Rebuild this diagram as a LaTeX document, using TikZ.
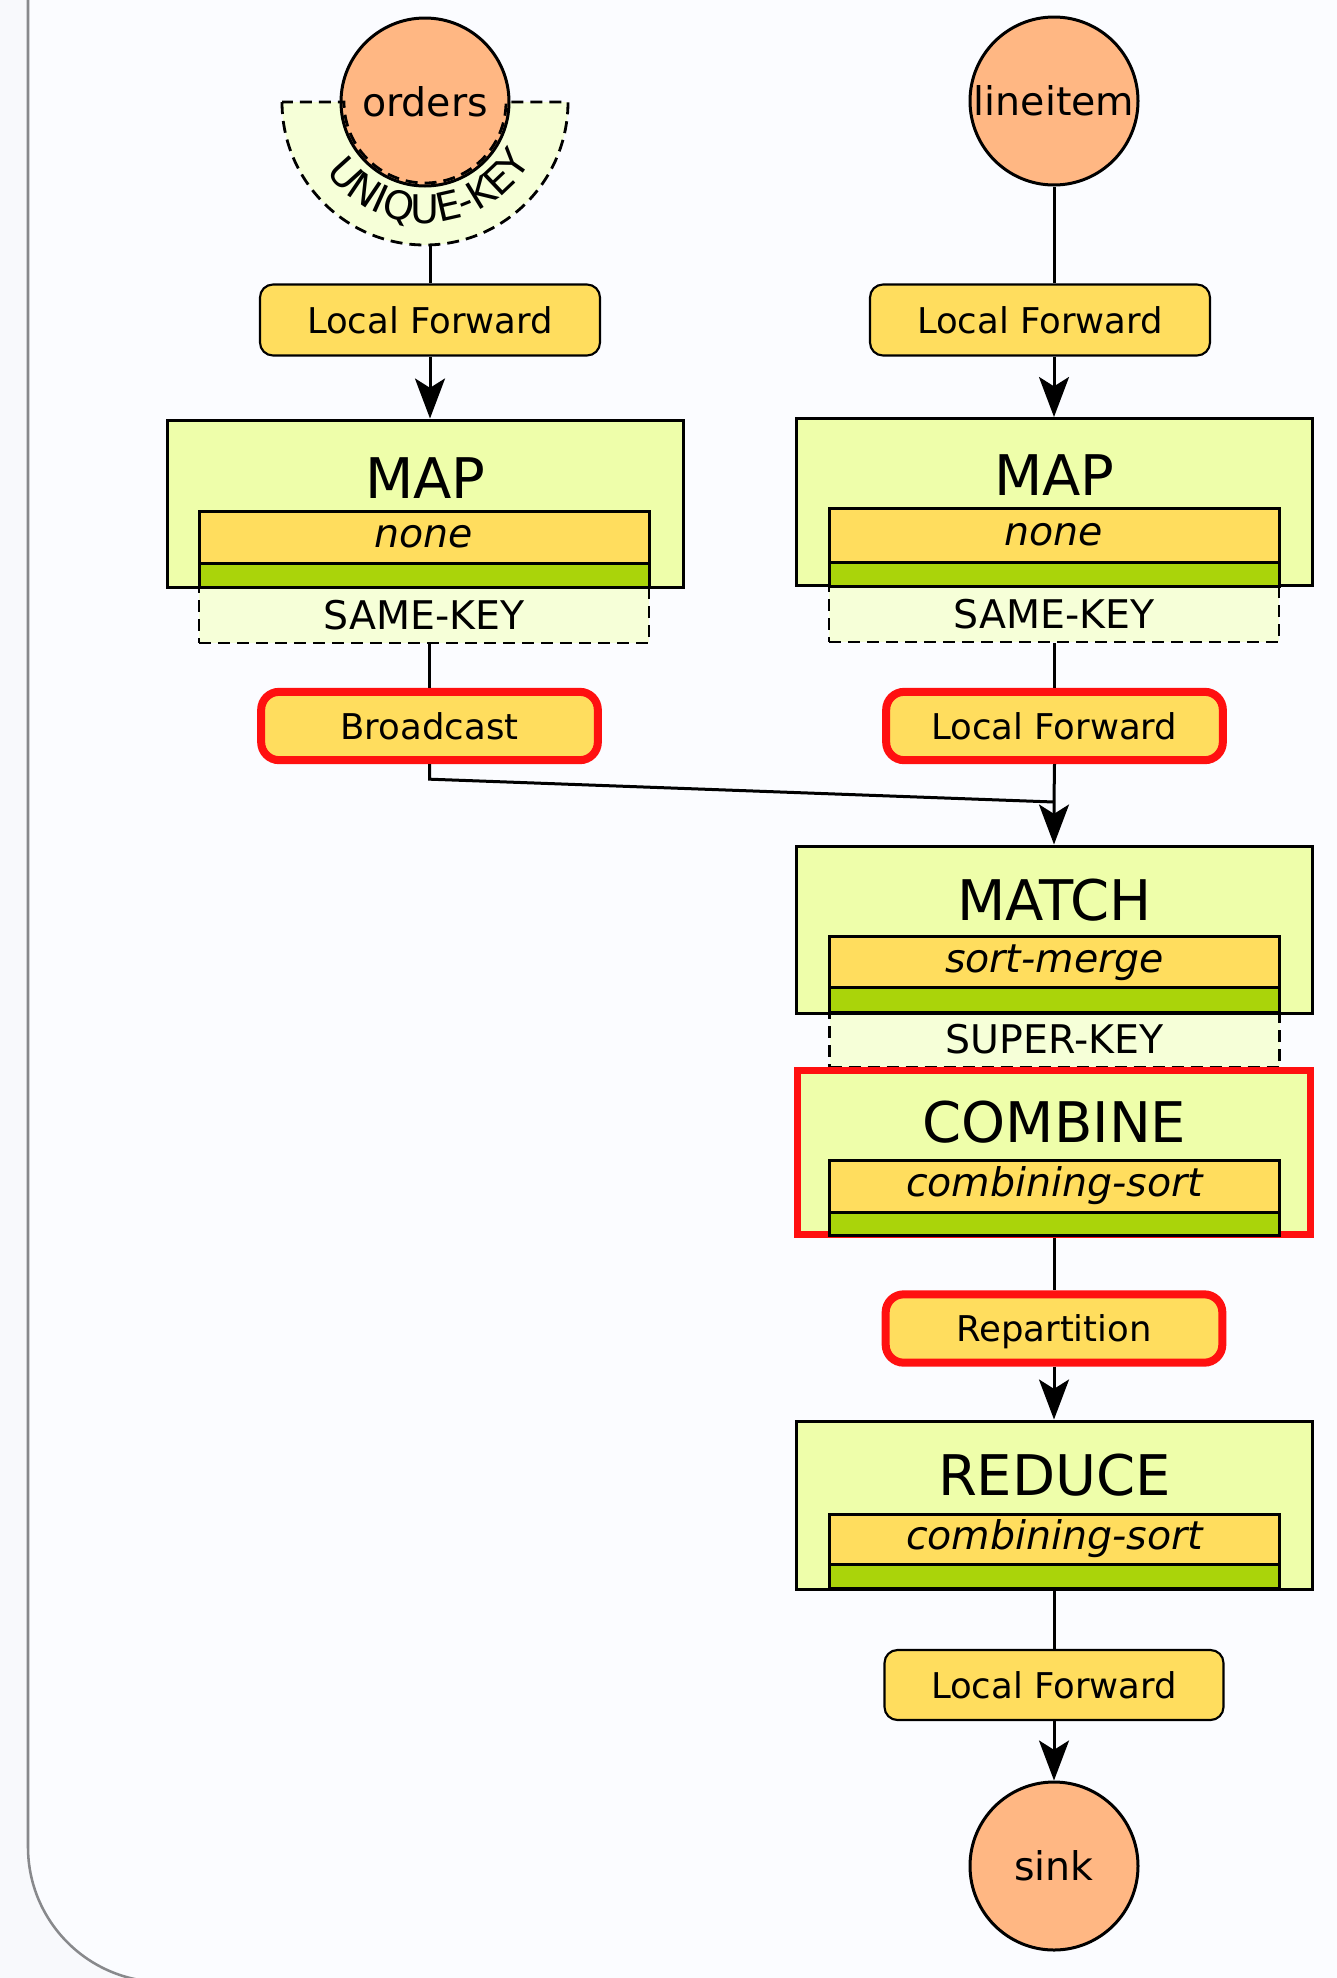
\documentclass[tikz,border=0pt]{standalone}
\usepackage{fontspec}
\setmainfont{DejaVu Sans}
\usepackage{tikz}
\usetikzlibrary{arrows.meta}
\usetikzlibrary{decorations.text}

\begin{document}
\begin{tikzpicture}[x=0.75pt,y=0.75pt,yscale=-1,xscale=1,
  src/.style={circle, draw, line width=2.25pt, fill={rgb, 255:red, 255; green, 183; blue, 131}, minimum size=126pt, inner sep=0pt, font=\fontsize{29.6}{34}\selectfont},
  ship/.style={rectangle, rounded corners=9.75pt, draw, line width=1.6pt, fill={rgb, 255:red, 255; green, 221; blue, 94}, minimum width=255pt, minimum height=53.25pt, inner sep=0pt, text depth=0pt, font=\fontsize{26.6}{30}\selectfont},
  shipred/.style={ship, draw={rgb, 255:red, 255; green, 16; blue, 16}, line width=6pt, rounded corners=13.5pt, minimum width=252.5pt, minimum height=51.25pt},
  op/.style={rectangle, draw, line width=2.25pt, fill={rgb, 255:red, 238; green, 254; blue, 170}, minimum width=387pt, minimum height=125.25pt, inner sep=0pt},
  opred/.style={op, draw={rgb, 255:red, 255; green, 16; blue, 16}, line width=5.6pt, minimum width=384.5pt, minimum height=122.75pt},
  optitle/.style={anchor=base, inner sep=0pt, font=\fontsize{42}{48}\selectfont},
  strat/.style={rectangle, draw, line width=2.25pt, fill={rgb, 255:red, 255; green, 221; blue, 94}, minimum width=337.5pt, inner sep=0pt, text height=16.2pt, text depth=0pt, font=\fontsize{29.6}{34}\selectfont\itshape},
  drv/.style={rectangle, draw, line width=2.25pt, fill={rgb, 255:red, 170; green, 212; blue, 10}, minimum width=337.5pt, minimum height=18pt, inner sep=0pt},
  keybox/.style={rectangle, draw, line width=2.1pt, dash pattern=on 9pt off 5.25pt, fill={rgb, 255:red, 246; green, 255; blue, 216}, minimum width=337.5pt, minimum height=42pt, inner sep=0pt, font=\fontsize{29.6}{34}\selectfont},
  keyline/.style={line width=2.1pt, dash pattern=on 9pt off 5.25pt},
  link/.style={line width=2.25pt},
  flow/.style={line width=2.25pt, -{Stealth[length=30pt,width=22.5pt,inset=7pt]}},
  frame/.style={draw={rgb, 255:red, 136; green, 137; blue, 140}, line width=1.9pt, fill={rgb, 255:red, 251; green, 252; blue, 255}}
]
\useasboundingbox (0,0) rectangle (1336,1978);
\fill [color={rgb, 255:red, 248; green, 249; blue, 252}] (0,0) rectangle (1336,1978);

%Shape: Frame
\path [frame] (28,-40) -- (28,1847) arc [start angle=180, end angle=90, radius=135] -- (1380,1982) -- (1380,-40) -- cycle ;

%Shape: Half Ring (unique key)
\fill [color={rgb, 255:red, 246; green, 255; blue, 216}] (282,102) arc [start angle=180, end angle=0, radius=143] -- (506,102) arc [start angle=0, end angle=180, radius=81] -- cycle ;
% Text Node
\node [src] (orders) at (425,102) {orders};
%Shape: Half Ring border
\draw [keyline] (282,102) arc [start angle=180, end angle=0, radius=143] -- (506,102) arc [start angle=0, end angle=180, radius=81] -- cycle ;
% Text along arc
\begin{scope}[shift={(425,102)}, yscale=-1]
\path [decorate, decoration={text along path, text align=center, text={|\fontsize{29.6}{34}\selectfont|UNIQUE-KEY}}] (203:121) arc [start angle=203, end angle=343, radius=121] ;
\end{scope}
\coordinate (ukey) at (430,245);

% Text Node
\node [src] (lineitem) at (1054,101) {lineitem};

%Left branch
\node [ship] (lf1) at (430,320) {Local Forward};
\node [keybox] (sk1) at (424,615) {SAME-KEY};
\node [op] (map1) at (425.5,503.5) {};
\node [optitle] (map1t) at (425.5,498) {MAP};
\node [strat, minimum height=39pt] (s1) at (424,537) {none};
\node [drv] (d1) at (424,575) {};
\node [shipred] (bc) at (429.5,726) {Broadcast};

%Right branch
\node [ship] (lf2) at (1040,320) {Local Forward};
\node [keybox] (sk2) at (1054,614) {SAME-KEY};
\node [op] (map2) at (1054.5,502) {};
\node [optitle] (map2t) at (1054.5,495) {MAP};
\node [strat, minimum height=40.5pt] (s2) at (1054,535) {none};
\node [drv] (d2) at (1054,574) {};
\node [shipred] (lfr) at (1054.5,726) {Local Forward};
\coordinate (join) at (1054,802);

\node [keybox, minimum height=41.25pt] (sk3) at (1054.5,1039.5) {SUPER-KEY};
\node [op] (match) at (1054.5,929.5) {};
\node [optitle] (matcht) at (1054.5,920) {MATCH};
\node [strat, minimum height=38.25pt] (s3) at (1054.5,961.5) {sort-merge};
\node [drv, minimum height=18.75pt] (d3) at (1054.5,999.5) {};

\node [opred] (combine) at (1054,1152.5) {};
\node [optitle] (combinet) at (1054.5,1142) {COMBINE};
\node [strat, minimum height=39pt] (s4) at (1054.5,1186) {combining-sort};
\node [drv, minimum height=17.25pt] (d4) at (1054.5,1223.5) {};

\node [shipred] (rep) at (1054,1328.5) {Repartition};

\node [op, minimum height=126pt] (reduce) at (1054.5,1505) {};
\node [optitle] (reducet) at (1054.5,1495) {REDUCE};
\node [strat, minimum height=37.5pt] (s5) at (1054.5,1539) {combining-sort};
\node [drv] (d5) at (1054.5,1576) {};

\node [ship, minimum width=254.25pt, minimum height=52.5pt] (lf3) at (1054,1685) {Local Forward};
\node [src] (sink) at (1054,1866) {sink};

%Straight Lines
\draw [link] (ukey) -- (ukey |- lf1.north) ;
\draw [flow] (lf1.south) -- (lf1.south |- map1.north) ;
\draw [link] (bc.north |- sk1.south) -- (bc.north) ;
\draw [link] (bc.south) -- ++(0,15) -- (join) ;
\draw [link] (lineitem) -- (lineitem |- lf2.north) ;
\draw [flow] (lineitem |- lf2.south) -- (lineitem |- map2.north) ;
\draw [link] (sk2.south) -- (sk2.south |- lfr.north) ;
\draw [flow] (lfr.south) -- (join) -- (join |- match.north) ;
\draw [link] (combine.south) -- (rep.north) ;
\draw [flow] (rep.south) -- (rep.south |- reduce.north) ;
\draw [link] (lf3.north |- reduce.south) -- (lf3.north) ;
\draw [flow] (lf3.south) -- (sink.north) ;

\end{tikzpicture}
\end{document}
